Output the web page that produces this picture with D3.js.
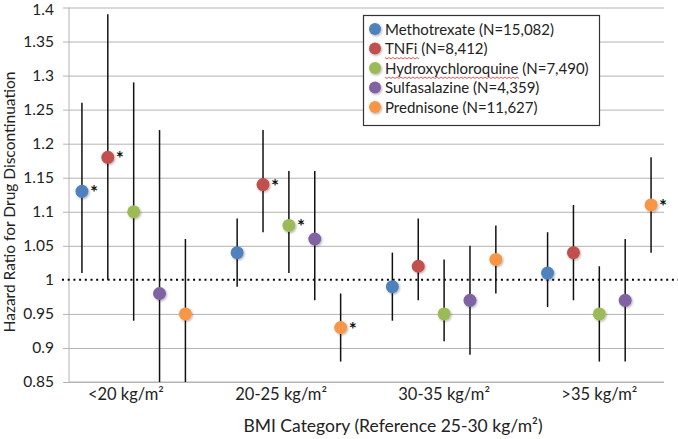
<!DOCTYPE html>
<html>
<head>
<meta charset="utf-8">
<script src="https://cdn.jsdelivr.net/npm/d3@7"></script>
<style>
  body { margin: 0; background: #fff; }
  svg { display: block; font-family: Lato, "Open Sans", sans-serif; }
</style>
</head>
<body>
<svg id="chart" width="678" height="439"></svg>
<script>
// ---- data ----
const categories = ["<20 kg/m\u00B2", "20-25 kg/m\u00B2", "30-35 kg/m\u00B2", ">35 kg/m\u00B2"];
const categoryTickAt = [2.7, 8.7, 15.0, 21.0];
const seriesNames = ["Methotrexate (N=15,082)", "TNFi (N=8,412)", "Hydroxychloroquine (N=7,490)", "Sulfasalazine (N=4,359)", "Prednisone (N=11,627)"];
const seriesColors = ["#4F81BD", "#C0504D", "#9BBB59", "#8064A2", "#F79646"];

const mtxHR  = [1.13, 1.04, 0.99, 1.01];
const mtxLo  = [1.01, 0.99, 0.94, 0.96];
const mtxHi  = [1.26, 1.09, 1.04, 1.07];
const mtxSig = [true, false, false, false];

const tnfHR  = [1.18, 1.14, 1.02, 1.04];
const tnfLo  = [1.00, 1.07, 0.97, 0.97];
const tnfHi  = [1.39, 1.22, 1.09, 1.11];
const tnfSig = [true, true, false, false];

const hcqHR  = [1.10, 1.08, 0.95, 0.95];
const hcqLo  = [0.94, 1.01, 0.91, 0.88];
const hcqHi  = [1.29, 1.16, 1.03, 1.02];
const hcqSig = [false, true, false, false];

const sszHR  = [0.98, 1.06, 0.97, 0.97];
const sszLo  = [0.85, 0.97, 0.89, 0.88];
const sszHi  = [1.22, 1.16, 1.05, 1.06];
const sszSig = [false, false, false, false];

const preHR  = [0.95, 0.93, 1.03, 1.11];
const preLo  = [0.85, 0.88, 0.98, 1.04];
const preHi  = [1.06, 0.98, 1.08, 1.18];
const preSig = [false, true, false, true];

const yTicks = [0.85, 0.9, 0.95, 1, 1.05, 1.1, 1.15, 1.2, 1.25, 1.3, 1.35, 1.4];
const referenceHR = 1;

const seriesData = [
  [mtxHR, mtxLo, mtxHi, mtxSig],
  [tnfHR, tnfLo, tnfHi, tnfSig],
  [hcqHR, hcqLo, hcqHi, hcqSig],
  [sszHR, sszLo, sszHi, sszSig],
  [preHR, preLo, preHi, preSig]
];

(function () {
// ---- build points ----
const points = [];
seriesData.forEach((s, si) => {
  categories.forEach((c, gi) => {
    points.push({ si, gi, xv: gi * 6 + si + 1, hr: s[0][gi], lo: s[1][gi], hi: s[2][gi], sig: s[3][gi] });
  });
});

// ---- layout ----
const svg = d3.select("#chart");
const pLeft = 69, pRight = 664, pTop = 7.5, pBottom = 382;
const x = d3.scaleLinear().domain([0.5, 23.5]).range([pLeft, pRight]);
const y = d3.scaleLinear().domain([0.85, 1.4]).range([pBottom, pTop]);

const defs = svg.append("defs");
const f = defs.append("filter").attr("id", "sh").attr("x", "-50%").attr("y", "-50%").attr("width", "200%").attr("height", "200%");
f.append("feDropShadow").attr("dx", 1).attr("dy", 1.2).attr("stdDeviation", 1).attr("flood-color", "#000").attr("flood-opacity", 0.3);

// gridlines
const yAxis = d3.axisLeft(y).tickValues(yTicks).tickSize(-(pRight - pLeft)).tickPadding(9)
  .tickFormat(d => String(+d.toFixed(2)));
const gy = svg.append("g").attr("transform", `translate(${pLeft},0)`).call(yAxis);
gy.select(".domain").remove();
gy.selectAll(".tick line").attr("stroke", "#b4b4b4").attr("stroke-width", 1)
  .attr("x1", -6);
gy.selectAll(".tick").filter(d => d === referenceHR).select("line").remove();
gy.selectAll(".tick text").attr("font-size", 15.5).attr("fill", "#222").attr("x", -15)
  .attr("font-family", "Lato, 'Open Sans', sans-serif");
gy.selectAll(".tick").filter(d => d === 1.4).select("text").attr("dy", "0.45em");

// axis lines
svg.append("line").attr("x1", pLeft).attr("x2", pLeft).attr("y1", pTop).attr("y2", pBottom)
  .attr("stroke", "#b4b4b4");
svg.append("line").attr("x1", pLeft).attr("x2", pRight).attr("y1", pBottom).attr("y2", pBottom)
  .attr("stroke", "#b4b4b4");

// reference dotted line
svg.append("line").attr("x1", 62).attr("x2", 678).attr("y1", y(referenceHR)).attr("y2", y(referenceHR))
  .attr("stroke", "#000").attr("stroke-width", 2).attr("stroke-dasharray", "2,3.7");

// error bars
svg.append("g").selectAll("line").data(points).join("line")
  .attr("x1", d => x(d.xv)).attr("x2", d => x(d.xv))
  .attr("y1", d => y(Math.max(d.lo, 0.85))).attr("y2", d => y(Math.min(d.hi, 1.4)))
  .attr("stroke", "#111").attr("stroke-width", 1.5);

// points
svg.append("g").selectAll("circle").data(points).join("circle")
  .attr("cx", d => x(d.xv)).attr("cy", d => y(d.hr)).attr("r", 6.5)
  .attr("fill", d => seriesColors[d.si]).attr("filter", "url(#sh)");

// significance stars
svg.append("g").selectAll("text").data(points.filter(d => d.sig)).join("text")
  .attr("x", d => x(d.xv) + 8).attr("y", d => y(d.hr) + 8)
  .attr("font-size", 19).attr("font-weight", "bold").attr("fill", "#111").text("*");

// x category labels
svg.append("g").selectAll("text").data(categories).join("text")
  .attr("x", (d, i) => x(categoryTickAt[i])).attr("y", 400)
  .attr("text-anchor", "middle").attr("font-size", 16.5).attr("fill", "#222").text(d => d);

// axis titles
svg.append("text").attr("x", 393).attr("y", 432).attr("text-anchor", "middle")
  .attr("font-size", 17.5).attr("fill", "#222").text("BMI Category (Reference 25-30 kg/m\u00B2)");
svg.append("text").attr("transform", "translate(15,202) rotate(-90)").attr("text-anchor", "middle")
  .attr("font-size", 15.5).attr("fill", "#222").text("Hazard Ratio for Drug Discontinuation");

// legend
const lg = svg.append("g");
lg.append("rect").attr("x", 363.5).attr("y", 15.5).attr("width", 236).attr("height", 110)
  .attr("fill", "#fff").attr("stroke", "#333").attr("stroke-width", 1.2);
const items = lg.selectAll("g.item").data(seriesNames).join("g").attr("class", "item")
  .attr("transform", (d, i) => `translate(375,${29 + i * 19.5})`);
items.append("circle").attr("r", 6).attr("fill", (d, i) => seriesColors[i]).attr("filter", "url(#sh)");
items.append("text").attr("x", 10).attr("y", 5.5).attr("font-size", 15).attr("fill", "#222").text(d => d);
// spell-check squiggles under TNFi and Hydroxychloroquine
function squiggle(g, x0, w) {
  let p = `M${x0},0`;
  for (let xx = x0; xx < x0 + w; xx += 2) p += ` L${xx + 2},${((xx - x0) / 2) % 2 === 0 ? 1.5 : 0}`;
  g.append("path").attr("d", p).attr("transform", "translate(0,9)").attr("fill", "none").attr("stroke", "#e03030").attr("stroke-width", 0.8);
}
items.each(function (d, i) {
  const g = d3.select(this);
  if (i === 1 || i === 2) {
    const word = d.split(" ")[0];
    const t = g.append("text").attr("font-size", 15).attr("visibility", "hidden").text(word);
    const w = t.node().getComputedTextLength();
    t.remove();
    squiggle(g, 10, w);
  }
});
})();
</script>
</body>
</html>
